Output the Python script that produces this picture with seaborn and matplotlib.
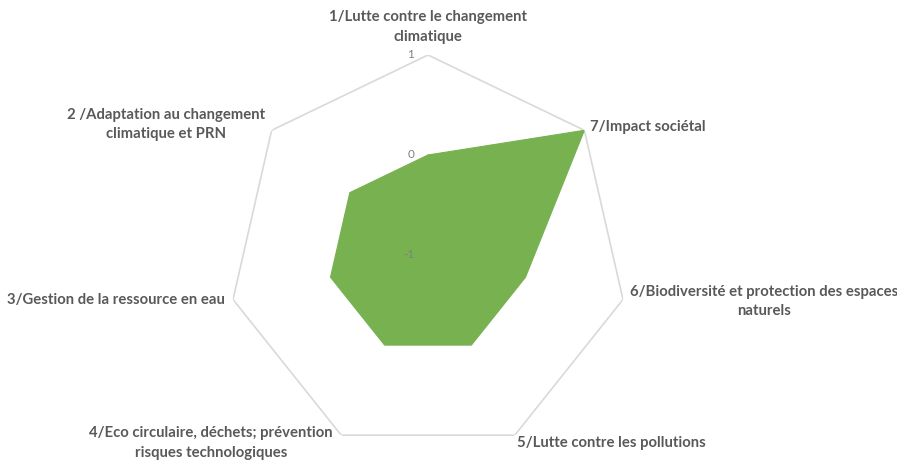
import numpy as np
import pandas as pd
import matplotlib
matplotlib.use("Agg")
import matplotlib.pyplot as plt
import seaborn as sns

categories = [
    "1/Lutte contre le changement\nclimatique",
    "2 /Adaptation au changement\nclimatique et PRN",
    "3/Gestion de la ressource en eau",
    "4/Eco circulaire, déchets; prévention\nrisques technologiques",
    "5/Lutte contre les pollutions",
    "6/Biodiversité et protection des espaces\nnaturels",
    "7/Impact sociétal",
]
values = [0, 0, 0, 0, 0, 0, 1]
r_ticks = [-1, 0, 1]
r_tick_labels = ["-1", "0", "1"]

sns.set_theme(style="white")
plt.rcParams["font.family"] = ["Lato", "DejaVu Sans"]

fig = plt.figure(figsize=(8.97, 4.67), dpi=100)
ax = fig.add_axes([228 / 897, 12 / 467, 400 / 897, 400 / 467], projection="polar")
ax.set_theta_offset(np.pi / 2)
ax.set_theta_direction(1)
ax.set_rlim(r_ticks[0], r_ticks[-1])

n = len(categories)
theta = np.linspace(0, 2 * np.pi, n, endpoint=False)
theta_c = np.append(theta, theta[0])

# outer grid heptagon
outer = pd.DataFrame({"theta": theta_c, "r": [r_ticks[-1]] * (n + 1)})
sns.lineplot(data=outer, x="theta", y="r", sort=False, ax=ax, color="#D9D9D9",
             linewidth=1.2, estimator=None)

# series
vals_c = np.append(values, values[0])
ax.fill(theta_c, vals_c, color="#77B150", linewidth=0, zorder=3)
series = pd.DataFrame({"theta": theta_c, "r": vals_c})
sns.lineplot(data=series, x="theta", y="r", sort=False, ax=ax, color="#77B150",
             linewidth=0.8, estimator=None, zorder=3)

ax.grid(False)
ax.spines["polar"].set_visible(False)
ax.set_xticks([])
ax.set_yticks([])
ax.set_xlabel("")
ax.set_ylabel("")
ax.set_facecolor("none")

# radial tick labels
for v, lab in zip(r_ticks, r_tick_labels):
    ax.annotate(lab, xy=(0, v), xytext=(-10, 0), textcoords="offset points",
                ha="right", va="center", fontsize=8.5, color="#808080", zorder=5)

# category labels
offsets = [(0, 20), (-5, 4), (-6, 0), (-6, -5.5), (1.5, -5.5), (5, -1.5), (4, 2.5)]
has = ["center", "right", "right", "right", "left", "left", "left"]
for t, lab, off, ha in zip(theta, categories, offsets, has):
    ax.annotate(lab, xy=(t, r_ticks[-1]), xytext=off, textcoords="offset points",
                ha=ha, va="center", multialignment="center", fontsize=10.7,
                fontweight="bold", color="#595959", linespacing=1.5)

fig.savefig("out.png", dpi=100, facecolor="white")
